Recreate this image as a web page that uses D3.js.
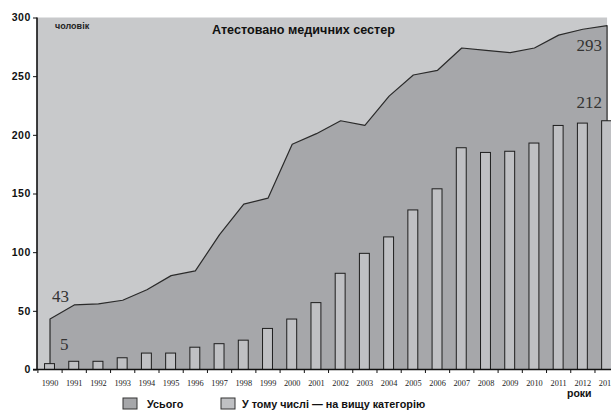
<!DOCTYPE html>
<html>
<head>
<meta charset="utf-8">
<script src="https://cdn.jsdelivr.net/npm/d3@7"></script>
<style>
  html, body { margin: 0; padding: 0; background: #fff; }
  svg { display: block; }
  .sans { font-family: "Liberation Sans", Arial, sans-serif; font-weight: bold; }
  .serif { font-family: "Liberation Serif", "Times New Roman", "DejaVu Serif", serif; }
</style>
</head>
<body>
<svg id="chart" width="611" height="412"></svg>
<script>
// Атестовані медичні сестри, 1990–2013
const years = [1990, 1991, 1992, 1993, 1994, 1995, 1996, 1997, 1998, 1999, 2000, 2001,
               2002, 2003, 2004, 2005, 2006, 2007, 2008, 2009, 2010, 2011, 2012, 2013];
const total = [43, 55, 56, 59, 68, 80, 84, 115, 141, 146, 192, 201,
               212, 208, 233, 251, 255, 274, 272, 270, 274, 285, 290, 293];
const higher = [5, 7, 7, 10, 14, 14, 19, 22, 25, 35, 43, 57,
                82, 99, 113, 136, 154, 189, 185, 186, 193, 208, 210, 212];
const yTicks = [0, 50, 100, 150, 200, 250, 300];
const valueLabels = [
  { series: "total", year: 1990, anchor: "start", dx: 2, dy: -17 },
  { series: "higher", year: 1990, anchor: "start", dx: 10, dy: -14 },
  { series: "total", year: 2013, anchor: "end", dx: -5, dy: 25 },
  { series: "higher", year: 2013, anchor: "end", dx: -5, dy: -13 }
];

const svg = d3.select("#chart");

const x = d3.scaleBand().domain(years).range([37.9, 619.2]).padding(0);
const bw = x.bandwidth();
const cx = d => x(d) + bw / 2;
const y = d3.scaleLinear().domain([0, 300]).range([369.5, 17.5]);

const rows = years.map((yr, i) => ({ year: yr, total: total[i], higher: higher[i] }));
const first = years[0], last = years[years.length - 1];

// light background panel
svg.append("rect")
  .attr("x", 37).attr("y", y(300))
  .attr("width", cx(last) - 37).attr("height", y(0) - y(300))
  .attr("fill", "#c8c9cb");

// total area
svg.append("path")
  .datum(rows)
  .attr("fill", "#a6a7aa")
  .attr("d", d3.area().x(d => cx(d.year)).y0(y(0)).y1(d => y(d.total)));

// outline of the total area, with its vertical ends
const outline = [{ year: first, total: 0 }, ...rows, { year: last, total: 0 }];
svg.append("path")
  .datum(outline)
  .attr("fill", "none")
  .attr("stroke", "#2a2a2a")
  .attr("stroke-width", 1.2)
  .attr("stroke-linejoin", "round")
  .attr("d", d3.line().x(d => cx(d.year)).y(d => y(d.total)));

// bars: higher category
const barW = bw * 0.41;
svg.append("g").selectAll("rect")
  .data(rows).join("rect")
  .attr("x", d => cx(d.year) - barW / 2 - 0.5)
  .attr("y", d => y(d.higher))
  .attr("width", barW)
  .attr("height", d => y(0) - y(d.higher))
  .attr("fill", "#bfc0c3")
  .attr("stroke", "#1e1e1e")
  .attr("stroke-width", 1);

// y axis
const yAxis = svg.append("g")
  .attr("transform", "translate(37,0)")
  .call(d3.axisLeft(y).tickValues(yTicks).tickSize(4).tickPadding(2));
yAxis.attr("font-family", null).attr("font-size", null);
yAxis.select(".domain").attr("stroke", "#111").attr("stroke-width", 1.6).attr("d", `M0,${y(300)}V${y(0)}`);
yAxis.selectAll(".tick line").attr("stroke", "#111").attr("stroke-width", 1);
yAxis.selectAll(".tick text")
  .attr("class", "sans")
  .style("font-size", "10.5px")
  .attr("letter-spacing", 0.6)
  .attr("fill", "#111");

// x axis line
svg.append("line")
  .attr("x1", 33).attr("x2", 611)
  .attr("y1", y(0)).attr("y2", y(0))
  .attr("stroke", "#111").attr("stroke-width", 1.6);

// x ticks at category boundaries
svg.append("g").selectAll("line")
  .data(years).join("line")
  .attr("x1", d => x(d)).attr("x2", d => x(d))
  .attr("y1", y(0)).attr("y2", y(0) + 3.5)
  .attr("stroke", "#111").attr("stroke-width", 1);

// year labels
svg.append("g").selectAll("text")
  .data(years).join("text")
  .attr("class", "serif")
  .attr("x", d => cx(d))
  .attr("y", 386)
  .attr("text-anchor", "middle")
  .style("font-size", "8.3px")
  .attr("fill", "#222")
  .text(d => d);

// value labels
const valueOf = (s, yr) => (s === "total" ? total : higher)[years.indexOf(yr)];
svg.append("g").selectAll("text")
  .data(valueLabels).join("text")
  .attr("class", "serif")
  .attr("x", d => cx(d.year) + d.dx)
  .attr("y", d => y(valueOf(d.series, d.year)) + d.dy)
  .attr("text-anchor", d => d.anchor)
  .style("font-size", "17px")
  .attr("fill", "#333")
  .text(d => valueOf(d.series, d.year));

// titles
svg.append("text")
  .attr("class", "sans")
  .attr("x", 55).attr("y", 29)
  .style("font-size", "9px")
  .attr("fill", "#222")
  .text("чоловік");

svg.append("text")
  .attr("class", "sans")
  .attr("x", 212).attr("y", 34)
  .style("font-size", "12.6px")
  .attr("fill", "#111")
  .text("Атестовано медичних сестер");

svg.append("text")
  .attr("class", "sans")
  .attr("x", 567).attr("y", 397)
  .style("font-size", "10.5px")
  .attr("fill", "#111")
  .text("роки");

// legend
const legend = [
  { label: "Усього", fill: "#a6a7aa", x: 123, gap: 24 },
  { label: "У тому числі — на вищу категорію", fill: "#bfc0c3", x: 221, gap: 21 }
];
const lg = svg.append("g").selectAll("g").data(legend).join("g")
  .attr("transform", d => `translate(${d.x},398)`);
lg.append("rect")
  .attr("width", 14).attr("height", 11)
  .attr("fill", d => d.fill)
  .attr("stroke", "#333").attr("stroke-width", 1);
lg.append("text")
  .attr("class", "sans")
  .attr("x", d => d.gap).attr("y", 10)
  .style("font-size", "10.8px")
  .attr("fill", "#111")
  .text(d => d.label);
</script>
</body>
</html>
